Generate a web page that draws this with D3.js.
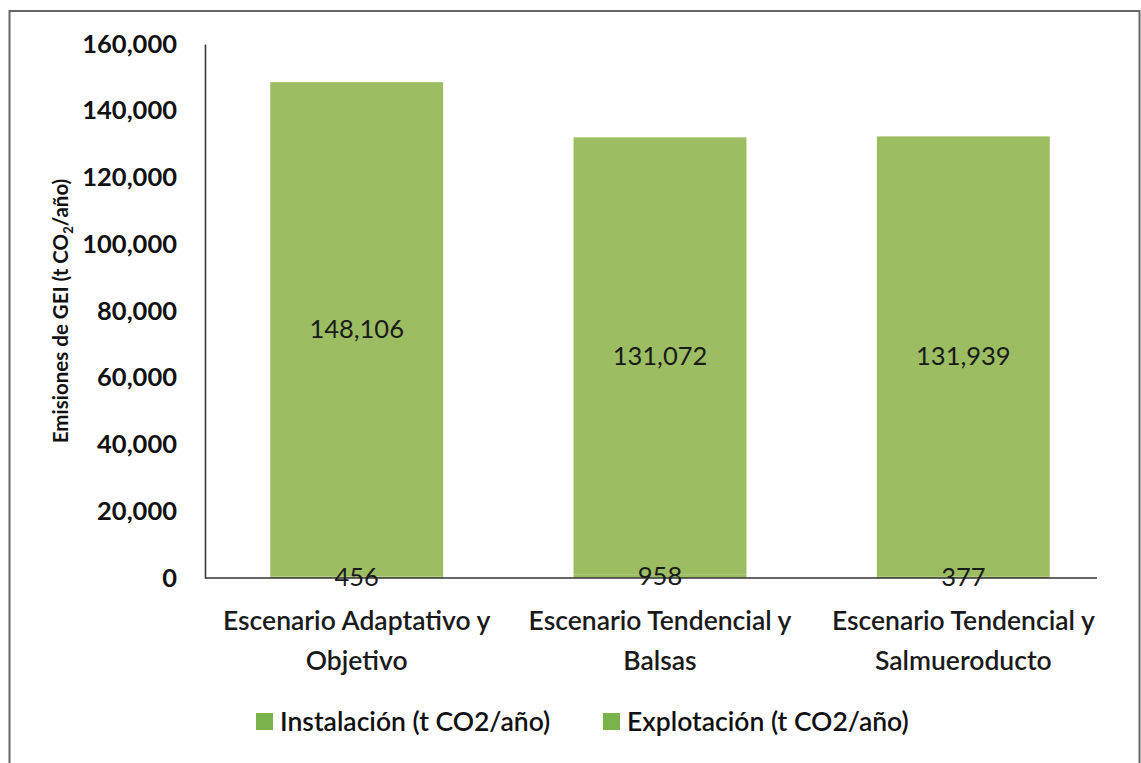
<!DOCTYPE html>
<html><head><meta charset="utf-8">
<script src="https://cdn.jsdelivr.net/npm/d3@7"></script>
<style>body{margin:0;background:#fff}svg{display:block}</style>
</head><body>
<script>
const categories = [["Escenario Adaptativo y","Objetivo"],["Escenario Tendencial y","Balsas"],["Escenario Tendencial y","Salmueroducto"]];
const seriesNames = ["Instalación (t CO2/año)","Explotación (t CO2/año)"];
const instalacion = [456, 958, 377];
const explotacion = [148106, 131072, 131939];
const yTicks = [0,20000,40000,60000,80000,100000,120000,140000,160000];
const barColors = ["#9cbd62","#9cbd62"];
const legendColors = ["#7ab24c","#7ab24c"];

const W=1141,H=763;
const svg=d3.select("body").append("svg").attr("width",W).attr("height",H);
svg.append("rect").attr("width",W).attr("height",H).attr("fill","#fefefe");
svg.append("rect").attr("x",9.5).attr("y",11).attr("width",1130).attr("height",800)
  .attr("fill","none").attr("stroke","#666").attr("stroke-width",2);

const font="Lato, 'Open Sans', sans-serif";
const x=d3.scaleBand().domain(d3.range(categories.length)).range([205,1115]).paddingInner(0.43).paddingOuter(0.215);
const y=d3.scaleLinear().domain([0,160000]).range([578,44]);

const data=categories.map((c,i)=>({i,inst:instalacion[i],expl:explotacion[i]}));
const stack=d3.stack().keys(["inst","expl"])(data);

stack.forEach((s,k)=>{
  svg.append("g").selectAll("rect").data(s).join("rect")
    .attr("x",(d,i)=>x(i)).attr("width",x.bandwidth())
    .attr("y",d=>y(d[1])).attr("height",d=>y(d[0])-y(d[1]))
    .attr("fill",barColors[k]);
});

// axes
const yAxis=svg.append("g").attr("transform","translate(205,0)")
  .call(d3.axisLeft(y).tickValues(yTicks).tickSize(0).tickPadding(28).tickFormat(d3.format(",")));
yAxis.select(".domain").attr("stroke","#333").attr("stroke-width",1.5);
yAxis.selectAll("text").attr("font-family",font).attr("font-weight",700).attr("font-size",25.5).attr("fill","#111");

svg.append("line").attr("x1",205).attr("x2",1097).attr("y1",y(0)).attr("y2",y(0)).attr("stroke","#333").attr("stroke-width",1.5);

// category labels
const cl=svg.append("g").selectAll("text").data(categories).join("text")
  .attr("x",(d,i)=>x(i)+x.bandwidth()/2).attr("y",630)
  .attr("text-anchor","middle").attr("font-family",font).attr("font-size",26.5).attr("font-weight",600).attr("fill","#1a1a1a");
cl.each(function(d){
  const t=d3.select(this);
  d.forEach((line,j)=>t.append("tspan").attr("x",t.attr("x")).attr("dy",j?40:0).text(line));
});

// data labels
const fmt=d3.format(",");
stack.forEach((s,k)=>{
  svg.append("g").selectAll("text").data(s).join("text")
    .attr("x",(d,i)=>x(i)+x.bandwidth()/2).attr("y",d=>(y(d[0])+y(d[1]))/2)
    .attr("dy","0.35em").attr("text-anchor","middle")
    .attr("font-family",font).attr("font-size",25.5).attr("fill","#1a1a1a")
    .text(d=>fmt(d[1]-d[0]));
});

// y title
svg.append("text").attr("transform",`translate(68,${(y(0)+y(160000))/2}) rotate(-90)`)
  .attr("text-anchor","middle").attr("font-family",font).attr("font-weight",700).attr("font-size",20.5).attr("fill","#111")
  .html('Emisiones de GEI (t CO<tspan font-size="13" dy="5">2</tspan><tspan dy="-5">/año)</tspan>');

// legend
const lx=[256,603];
seriesNames.forEach((n,k)=>{
  const g=svg.append("g").attr("transform",`translate(${lx[k]},713)`);
  g.append("rect").attr("width",17).attr("height",17).attr("fill",legendColors[k]);
  g.append("text").attr("x",24).attr("y",9).attr("dy","0.35em").attr("font-family",font).attr("font-weight",600)
    .attr("font-size",26.5).attr("fill","#111").text(n);
});
</script>
</body></html>
